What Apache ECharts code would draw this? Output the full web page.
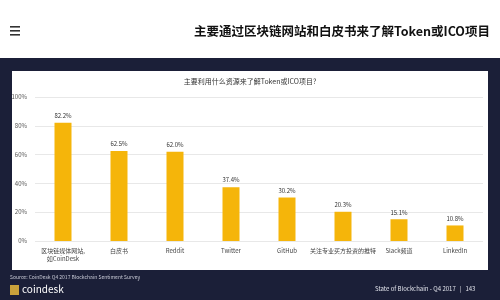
<!DOCTYPE html>
<html>
<head>
<meta charset="utf-8">
<script src="https://cdn.jsdelivr.net/npm/echarts@6/dist/echarts.min.js"></script>
<style>
html,body{margin:0;padding:0;background:#ffffff;}
#c{width:500px;height:300px;}
</style>
</head>
<body>
<div id="c"></div>
<script>
var categories = ['区块链媒体网站,\n如CoinDesk', '白皮书', 'Reddit', 'Twitter', 'GitHub', '关注专业买方投资的推特', 'Slack频道', 'LinkedIn'];
var values = [82.2, 62.5, 62.0, 37.4, 30.2, 20.3, 15.1, 10.8];
var yTicks = [0, 20, 40, 60, 80, 100];
var headerText = '主要通过区块链网站和白皮书来了解Token或ICO项目';
var chartTitle = '主要利用什么资源来了解Token或ICO项目?';
var sourceText = 'Source: CoinDesk Q4 2017 Blockchain Sentiment Survey';
var pageText = 'State of Blockchain - Q4 2017   |   143';

var navy = '#1b1f38';
var font = '"Noto Sans CJK SC", "Noto Sans", sans-serif';
var chart = echarts.init(document.getElementById('c'), null, {renderer: 'canvas'});
chart.setOption({
  backgroundColor: '#ffffff',
  animation: false,
  graphic: [
    {type: 'rect', z: -10, shape: {x: 0, y: 58, width: 500, height: 242}, style: {fill: navy}},
    {type: 'rect', z: -9, shape: {x: 12, y: 71, width: 476, height: 199}, style: {fill: '#ffffff'}},
    {type: 'rect', z: -8, shape: {x: 10, y: 26, width: 10, height: 1.6}, style: {fill: '#333'}},
    {type: 'rect', z: -8, shape: {x: 10, y: 30, width: 10, height: 1.6}, style: {fill: '#333'}},
    {type: 'rect', z: -8, shape: {x: 10, y: 34, width: 10, height: 1.6}, style: {fill: '#333'}},
    {type: 'text', right: 10, top: 25, style: {text: headerText, font: 'bold 12.5px ' + font, fill: '#111'}},
    {type: 'text', left: 'center', top: 78, style: {text: chartTitle, font: '7px ' + font, fill: '#333'}},
    {type: 'text', left: 10, top: 275, style: {text: sourceText, font: '5px ' + font, fill: '#c8cad6'}},
    {type: 'rect', shape: {x: 10, y: 285, width: 9, height: 10}, style: {fill: '#c9a13b'}},
    {type: 'text', left: 22, top: 284, style: {text: 'coindesk', font: '10px ' + font, fill: '#ffffff'}},
    {type: 'text', left: 375, top: 286, style: {text: pageText, font: '6px ' + font, fill: '#e0e2ea'}}
  ],
  grid: {left: 35, right: 17, top: 97, bottom: 59, containLabel: false},
  xAxis: {
    type: 'category',
    data: categories,
    axisLine: {show: false},
    axisTick: {show: false},
    axisLabel: {fontSize: 6, color: '#444', margin: 6, interval: 0, fontFamily: font, lineHeight: 8}
  },
  yAxis: {
    type: 'value',
    min: yTicks[0],
    max: yTicks[yTicks.length - 1],
    interval: 20,
    axisLabel: {fontSize: 6, color: '#555', formatter: '{value}%', margin: 8, fontFamily: font},
    axisLine: {show: false},
    axisTick: {show: false},
    splitLine: {lineStyle: {color: '#e8e8e8', width: 1}}
  },
  series: [{
    type: 'bar',
    data: values,
    barWidth: 17,
    itemStyle: {color: '#f5b50a'},
    label: {show: true, position: 'top', fontSize: 6, color: '#333', distance: 4, formatter: function (p) { return p.value.toFixed(1) + '%'; }, fontFamily: font}
  }]
});
</script>
</body>
</html>
